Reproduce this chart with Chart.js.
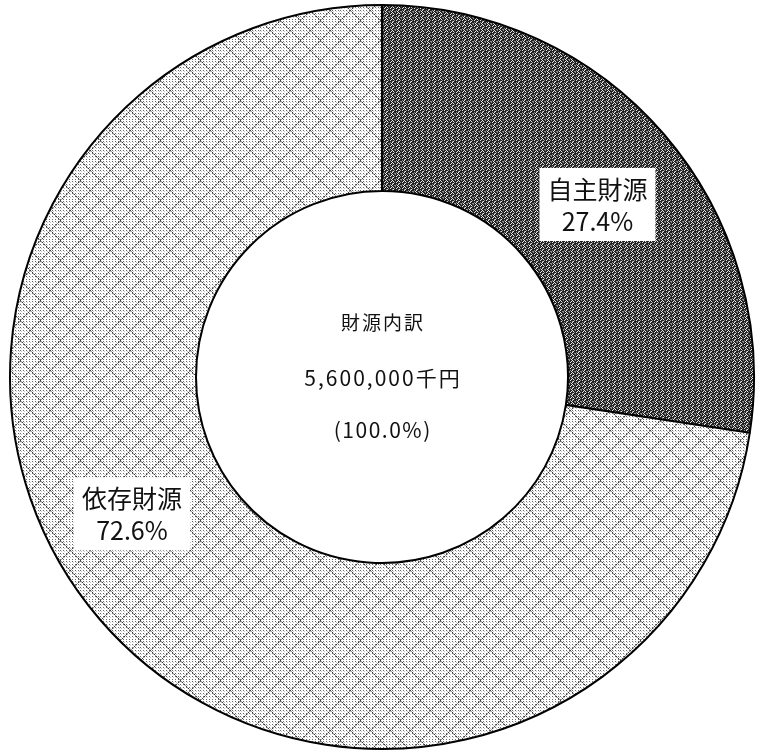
<!DOCTYPE html>
<html lang="ja">
<head>
<meta charset="utf-8">
<title>財源内訳</title>
<script src="https://cdn.jsdelivr.net/npm/chart.js@4.4.1/dist/chart.umd.min.js"></script>
<style>
  html, body { margin: 0; padding: 0; background: #fff; }
  .chart-wrap { position: relative; width: 757px; height: 752px; }
</style>
</head>
<body>
<div class="chart-wrap"><canvas id="zaigenChart"></canvas></div>
<script>
// 財源の区分と割合 (%)
const kubun = ["自主財源", "依存財源"];
const wariai = [27.4, 72.6];
const chuoText = ["財源内訳", "5,600,000千円", "(100.0%)"];

const FONT = '"Noto Sans CJK JP", "Noto Sans", sans-serif';

// 網掛けパターン（濃い方）
function koiPattern() {
  const rows = [
    "..#..+",
    ".#.#..",
    "#...+.",
    "..+#..",
    "+.#...",
    ".#..++",
  ];
  const c = document.createElement("canvas");
  c.width = 6;
  c.height = 6;
  const g = c.getContext("2d");
  g.fillStyle = "#222";
  g.fillRect(0, 0, 6, 6);
  rows.forEach((row, y) => {
    [...row].forEach((ch, x) => {
      if (ch === "#") g.fillStyle = "#e6e6e6";
      else if (ch === "+") g.fillStyle = "#8f8f8f";
      else return;
      g.fillRect(x, y, 1, 1);
    });
  });
  return g.createPattern(c, "repeat");
}

// 網掛けパターン（薄い方）: 点の格子 + 斜めの格子線
function usuiPattern() {
  const n = 20;
  const c = document.createElement("canvas");
  c.width = n;
  c.height = n;
  const g = c.getContext("2d");
  g.fillStyle = "#ffffff";
  g.fillRect(0, 0, n, n);
  for (let y = 0; y < n; y++) {
    for (let x = 0; x < n; x++) {
      const sen = (x + y) % n === 0 || (x - y + n) % n === 0;
      if (sen && x % 2 === 0) {
        g.fillStyle = "#3a3a3a";
        g.fillRect(x, y, 1, 1);
      } else if (sen) {
        g.fillStyle = "#9a9a9a";
        g.fillRect(x, y, 1, 1);
      } else if (x % 3 === 0 && y % 3 === 1) {
        g.fillStyle = "#6a6a6a";
        g.fillRect(x, y, 1, 1);
      } else if (x % 3 === 1 && y % 3 === 2) {
        g.fillStyle = "#c8c8c8";
        g.fillRect(x, y, 1, 1);
      }
    }
  }
  return g.createPattern(c, "repeat");
}

// ドーナツ中央の文字
const chuoPlugin = {
  id: "chuoText",
  afterDatasetsDraw(chart, args, opts) {
    const arc = chart.getDatasetMeta(0).data[0];
    if (!arc) return;
    const ctx = chart.ctx;
    ctx.save();
    ctx.fillStyle = "#111";
    ctx.textAlign = "center";
    ctx.textBaseline = "middle";
    opts.lines.forEach((t, i) => {
      ctx.font = opts.fonts[i];
      ctx.letterSpacing = opts.spacing[i] + "px";
      ctx.fillText(t, arc.x + opts.spacing[i] / 2, arc.y + opts.dy[i]);
    });
    ctx.restore();
  },
};

// 各区分のラベル（白地の箱）
const labelPlugin = {
  id: "zaigenLabels",
  afterDatasetsDraw(chart, args, opts) {
    const ctx = chart.ctx;
    const ds = chart.data.datasets[0];
    chart.getDatasetMeta(0).data.forEach((arc, i) => {
      const p = arc.getProps(["x", "y", "startAngle", "endAngle", "innerRadius", "outerRadius"], true);
      const kaku = (p.startAngle + p.endAngle) / 2 + (opts.angleShift[i] * Math.PI) / 180;
      const r = (p.innerRadius + p.outerRadius) / 2 + opts.radiusShift[i];
      const cx = p.x + Math.cos(kaku) * r;
      const cy = p.y + Math.sin(kaku) * r;
      const line1 = chart.data.labels[i];
      const line2 = ds.data[i].toFixed(1) + "%";

      ctx.save();
      ctx.font = opts.font;
      const w = Math.max(ctx.measureText(line1).width, ctx.measureText(line2).width) + opts.padX * 2;
      const h = opts.boxH;
      ctx.fillStyle = "#fff";
      ctx.fillRect(cx - w / 2, cy - h / 2, w, h);
      ctx.fillStyle = "#111";
      ctx.textAlign = "center";
      ctx.textBaseline = "middle";
      ctx.fillText(line1, cx, cy - 15);
      ctx.fillText(line2, cx, cy + 17);
      ctx.restore();
    });
  },
};

new Chart(document.getElementById("zaigenChart"), {
  type: "doughnut",
  data: {
    labels: kubun,
    datasets: [
      {
        data: wariai,
        backgroundColor: [koiPattern(), usuiPattern()],
        borderColor: "#000",
        borderWidth: 2,
        hoverOffset: 0,
      },
    ],
  },
  options: {
    responsive: true,
    maintainAspectRatio: false,
    animation: false,
    cutout: "50%",
    rotation: 0,
    layout: { padding: { left: 9, right: 2, top: 4, bottom: 2 } },
    events: [],
    plugins: {
      legend: { display: false },
      tooltip: { enabled: false },
      chuoText: {
        lines: chuoText,
        fonts: ["19px " + FONT, "21px " + FONT, "21px " + FONT],
        spacing: [2, 2, 1.5],
        dy: [-54, 1, 53],
      },
      zaigenLabels: {
        font: "25px " + FONT,
        angleShift: [2, 12],
        radiusShift: [-3, 6],
        padX: 8,
        boxH: 73,
      },
    },
  },
  plugins: [chuoPlugin, labelPlugin],
});
</script>
</body>
</html>
